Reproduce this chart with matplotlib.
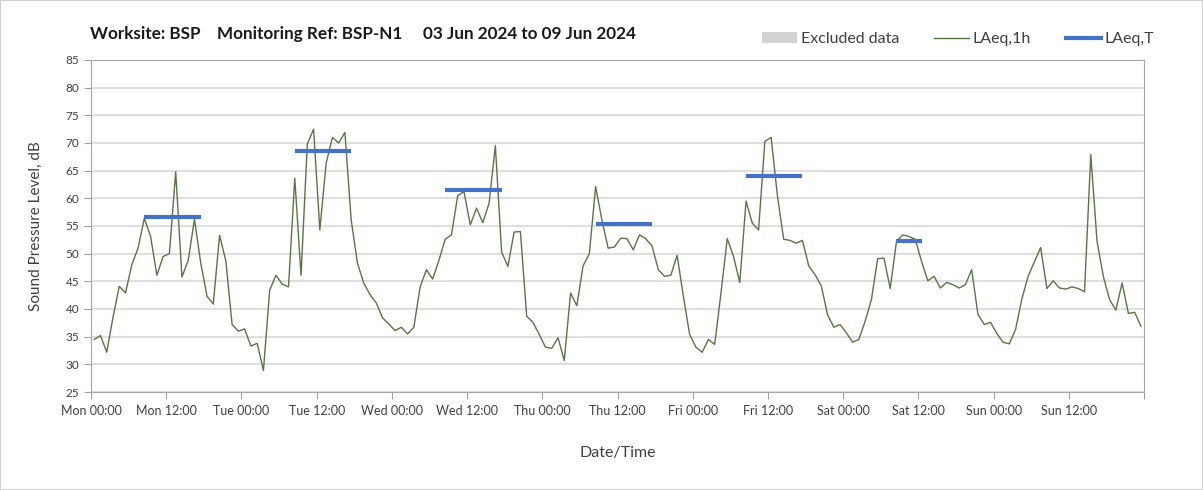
import numpy as np
import matplotlib
matplotlib.use("Agg")
import matplotlib.pyplot as plt
from matplotlib.lines import Line2D
from matplotlib.patches import Patch, Rectangle

plt.rcParams['font.family'] = ['Lato', 'DejaVu Sans']

# hourly LAeq,1h values, Mon 00:00 .. Sun 23:00
laeq_1h = [
    34.5, 35.2, 32.2, 38.5, 44.1, 42.9, 48.0, 51.0, 56.4, 53.1, 46.1, 49.5,
    50.0, 64.8, 45.8, 48.8, 56.2, 48.3, 42.3, 40.9, 53.3, 48.7, 37.2, 36.0,
    36.4, 33.3, 33.8, 28.9, 43.4, 46.1, 44.5, 44.0, 63.6, 46.1, 69.8, 72.5,
    54.3, 66.3, 71.0, 70.0, 71.9, 56.1, 48.3, 44.7, 42.6, 41.1, 38.4, 37.3,
    36.1, 36.7, 35.5, 36.7, 44.0, 47.1, 45.4, 48.8, 52.6, 53.4, 60.5, 61.2,
    55.2, 58.2, 55.6, 59.1, 69.5, 50.3, 47.7, 53.9, 54.0, 38.7, 37.6, 35.4,
    33.1, 32.9, 34.8, 30.7, 42.9, 40.6, 47.8, 50.0, 62.1, 56.1, 51.0, 51.2,
    52.8, 52.7, 50.7, 53.4, 52.7, 51.4, 47.1, 45.9, 46.1, 49.7, 42.3, 35.4,
    33.1, 32.2, 34.5, 33.6, 42.9, 52.7, 49.5, 44.8, 59.5, 55.5, 54.3, 70.3,
    71.0, 60.5, 52.6, 52.4, 51.9, 52.4, 47.8, 46.2, 44.2, 39.0, 36.7, 37.2,
    35.7, 34.0, 34.5, 37.8, 41.7, 49.1, 49.2, 43.7, 52.2, 53.4, 53.1, 52.6,
    48.6, 45.1, 45.9, 43.8, 44.8, 44.4, 43.8, 44.4, 47.1, 39.0, 37.2, 37.6,
    35.6, 34.0, 33.7, 36.3, 41.8, 45.9, 48.5, 51.1, 43.7, 45.1, 43.8, 43.6,
    44.0, 43.7, 43.1, 67.9, 52.2, 45.9, 41.7, 39.8, 44.7, 39.2, 39.4, 36.9,
]

# LAeq,T over each daytime period (hours from Mon 00:00)
period_start = [8.5, 32.5, 56.5, 80.5, 104.5, 128.5]
period_end = [17.5, 41.5, 65.5, 89.5, 113.5, 132.5]
laeq_t = [56.6, 68.6, 61.5, 55.3, 64.1, 52.3]

days = ['Mon', 'Tue', 'Wed', 'Thu', 'Fri', 'Sat', 'Sun']

hours = np.arange(len(laeq_1h)) + 0.5

fig = plt.figure(figsize=(12.03, 4.9), dpi=100)
ax = fig.add_axes([0.0757, 0.2, 0.8753, 0.6776])

ax.plot(hours, laeq_1h, color='#5a7545', lw=1.0, zorder=3)
ax.hlines(laeq_t, period_start, period_end, color='#4472C4', lw=3, zorder=4)

ax.set_xlim(0, 168)
ax.set_ylim(25, 85)
ax.set_yticks(np.arange(25, 86, 5))

xt = np.arange(0, 169, 12)
xlabels = [f"{days[int(h // 24)]} {int(h % 24):02d}:00" if h < 168 else '' for h in xt]
ax.set_xticks(xt)
ax.set_xticklabels(xlabels)
ax.set_xticks(np.arange(24, 168, 24), minor=True)

ax.grid(axis='y', color='#d9d9d9', lw=1.2)
ax.grid(axis='x', which='minor', color='#d9d9d9', lw=1.2)
ax.set_axisbelow(True)

ax.tick_params(axis='x', which='major', length=5, color='#a0a0a0', labelsize=9,
               labelcolor='#404040', pad=4)
ax.tick_params(axis='x', which='minor', length=0)
ax.tick_params(axis='y', length=5, color='#a0a0a0', labelsize=8.5, labelcolor='#404040')
for s in ax.spines.values():
    s.set_color('#a6a6a6')

ax.set_xlabel('Date/Time', fontsize=11.5, color='#404040', labelpad=21)
ax.set_ylabel('Sound Pressure Level, dB', fontsize=11, color='#404040', labelpad=16)

fig.text(0.0748, 0.93, 'Worksite: BSP    Monitoring Ref: BSP-N1     03 Jun 2024 to 09 Jun 2024',
         fontsize=12.3, fontweight='bold', color='#1a1a1a', ha='left', va='center')

handles = [Patch(facecolor='#d3d3d3', edgecolor='none'),
           Line2D([], [], color='#5a7545', lw=1.0),
           Line2D([], [], color='#4472C4', lw=3)]
fig.legend(handles, ['Excluded data', 'LAeq,1h', 'LAeq,T'], loc='center right',
           bbox_to_anchor=(0.971, 0.92), ncol=3, frameon=False, fontsize=11.5,
           handlelength=2.2, handletextpad=0.2, columnspacing=2.2, labelcolor='#404040')

fig.patches.append(Rectangle((0, 0), 1, 1, transform=fig.transFigure, fill=False,
                             edgecolor='#d0d0d0', lw=1.5))

fig.savefig('out.png', dpi=100)
